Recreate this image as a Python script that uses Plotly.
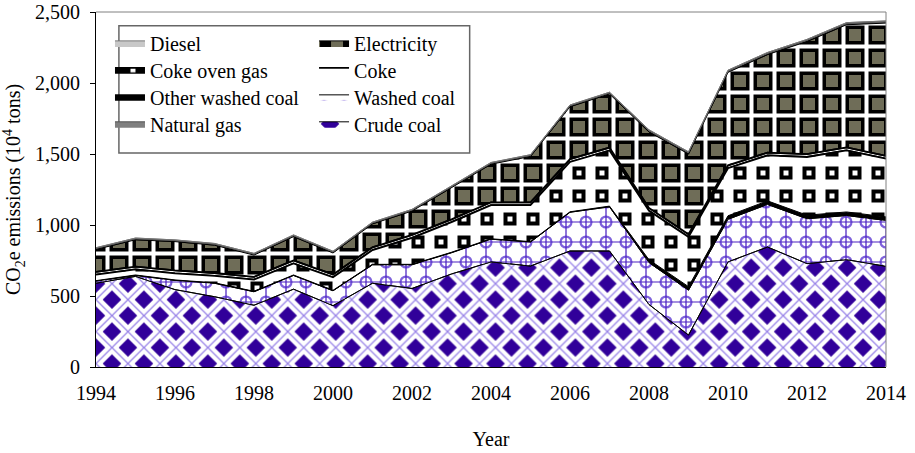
import numpy as np
import plotly.graph_objects as go

years = list(range(1994, 2015))
crude_coal = [590, 638, 545, 495, 435, 548, 432, 590, 553, 655, 740, 711, 817, 817, 440, 225, 740, 845, 728, 756, 709]
washed_coal = [15, 7, 65, 95, 95, 97, 105, 130, 167, 150, 160, 169, 273, 311, 295, 316, 300, 300, 316, 311, 323]
other_washed_coal = [3, 3, 3, 3, 3, 3, 3, 3, 3, 3, 3, 3, 3, 5, 20, 25, 25, 25, 25, 25, 25]
coke_oven_gas = [42, 39, 47, 49, 82, 82, 92, 100, 187, 212, 237, 257, 351, 392, 345, 349, 335, 320, 410, 434, 410]
coke = [20, 20, 20, 20, 20, 20, 20, 20, 20, 20, 20, 20, 20, 20, 20, 20, 20, 20, 20, 20, 20]
electricity = [158, 189, 203, 196, 153, 168, 151, 165, 168, 223, 268, 323, 369, 378, 535, 565, 655, 690, 793, 864, 935]
natural_gas = [7, 7, 7, 7, 7, 7, 7, 7, 7, 7, 7, 7, 7, 7, 10, 10, 10, 10, 10, 10, 10]
diesel = [5, 5, 5, 5, 5, 5, 5, 5, 5, 5, 5, 5, 5, 5, 5, 5, 5, 5, 5, 5, 5]

x_ticks = [1994, 1996, 1998, 2000, 2002, 2004, 2006, 2008, 2010, 2012, 2014]
y_ticks = [0, 500, 1000, 1500, 2000, 2500]

FONT = "Liberation Serif, Times New Roman, serif"
CLEAR = "rgba(0,0,0,0)"


def pat(shape, fg, bg, size, sol):
    return dict(shape=shape, fgcolor=fg, bgcolor=bg, size=size, solidity=sol, fillmode="replace")


# name, values, base fill (pattern or colour), overlays, boundary line
series = [
    ("Crude coal", crude_coal, pat("x", "white", "#31009a", 22.6, 0.66),
     [pat("x", "#9a85e8", CLEAR, 22.6, 0.11)], ("black", 1)),
    ("Washed coal", washed_coal, pat(".", "#7f62dc", "white", 20, 0.34),
     [pat(".", "white", CLEAR, 20, 0.15), pat("+", "#4a1fc0", CLEAR, 20, 0.12)], ("black", 1)),
    ("Other washed coal", other_washed_coal, "black", [], ("black", 1)),
    ("Coke oven gas", coke_oven_gas, pat("+", "black", "white", 23, 0.953),
     [pat("+", "white", CLEAR, 23, 0.68)], ("black", 1.8)),
    ("Coke", coke, "white", [], ("black", 1.8)),
    ("Electricity", electricity, pat("+", "black", "#6f6d58", 23, 0.728),
     [pat("+", "white", CLEAR, 23, 0.318)], ("black", 1)),
    ("Natural gas", natural_gas, "#7f7f7f", [], ("#555555", 1)),
    ("Diesel", diesel, "#c8c8c8", [], ("#777777", 1)),
]

# legend slot (paper x, paper y) for each series: two columns of four rows
legend_slots = {
    "Diesel": (0.0177, 0.913), "Coke oven gas": (0.0177, 0.837),
    "Other washed coal": (0.0177, 0.761), "Natural gas": (0.0177, 0.685),
    "Electricity": (0.276, 0.913), "Coke": (0.276, 0.837),
    "Washed coal": (0.276, 0.761), "Crude coal": (0.276, 0.685),
}

fig = go.Figure()
legend_layout = {}

# base stacked areas (legend entries)
for k, (name, vals, fill, _, ln) in enumerate(series):
    lid = "legend" if k == 0 else "legend%d" % (k + 1)
    kw = dict(x=years, y=vals, name=name, mode="lines", stackgroup="one",
              line=dict(width=ln[1], color=ln[0]), legend=lid, hoverinfo="skip")
    if isinstance(fill, dict):
        kw["fillpattern"] = fill
        kw["fillcolor"] = fill["bgcolor"]
    else:
        kw["fillcolor"] = fill
    fig.add_trace(go.Scatter(**kw))
    lx, ly = legend_slots[name]
    legend_layout[lid] = dict(x=lx, y=ly, xanchor="left", yanchor="middle",
                              bgcolor=CLEAR, borderwidth=0, itemwidth=30,
                              font=dict(family=FONT, size=20, color="black"))

# overlay patterns and boundary lines
cum = np.cumsum(np.array([s[1] for s in series], dtype=float), axis=0)
lower = np.vstack([np.zeros(len(years)), cum[:-1]])
for i, (name, vals, fill, overlays, _) in enumerate(series):
    for ov in overlays:
        xs = years + years[::-1]
        ys = list(cum[i]) + list(lower[i][::-1])
        fig.add_trace(go.Scatter(x=xs, y=ys, mode="lines", fill="toself",
                                 fillcolor=CLEAR, fillpattern=ov,
                                 line=dict(width=0), showlegend=False, hoverinfo="skip"))
for i, s in enumerate(series):
    col, w = s[4]
    fig.add_trace(go.Scatter(x=years, y=list(cum[i]), mode="lines",
                             line=dict(color=col, width=w), showlegend=False, hoverinfo="skip"))

fig.update_layout(
    width=915, height=453,
    margin=dict(l=96, r=29, t=12, b=86),
    paper_bgcolor="white", plot_bgcolor="white",
    font=dict(family=FONT, size=20, color="black"),
    showlegend=True,
    xaxis=dict(range=[1994, 2014], tickvals=x_ticks, ticks="", showline=True,
               linecolor="black", linewidth=1, showgrid=False, zeroline=False,
               automargin=False, ticklabeloverflow="allow",
               tickfont=dict(family=FONT, size=20), ticklabelstandoff=8,
               title=dict(text="Year", font=dict(family=FONT, size=20), standoff=28)),
    yaxis=dict(range=[0, 2500], tickvals=y_ticks, tickformat=",", ticks="outside",
               ticklen=5, tickcolor="black", showline=True, linecolor="black", linewidth=1,
               showgrid=False, zeroline=False, automargin=False, ticklabeloverflow="allow",
               tickfont=dict(family=FONT, size=20), ticklabelstandoff=6,
               title=dict(text="CO<sub>2</sub>e emissions (10<sup>4</sup> tons)",
                          font=dict(family=FONT, size=20), standoff=13)),
    shapes=[
        dict(type="line", xref="paper", yref="paper", x0=0, x1=1, y0=1, y1=1,
             line=dict(color="#808080", width=1), layer="above"),
        dict(type="line", xref="paper", yref="paper", x0=1, x1=1, y0=0, y1=1,
             line=dict(color="#808080", width=1), layer="above"),
        dict(type="rect", xref="paper", yref="paper", x0=0.029, x1=0.473, y0=0.603, y1=0.961,
             fillcolor="white", line=dict(color="#666666", width=1.5), layer="above"),
    ],
    **legend_layout,
)

fig.write_html("out.html", config={"displayModeBar": False},
               post_script="document.body.style.margin='0px';")
